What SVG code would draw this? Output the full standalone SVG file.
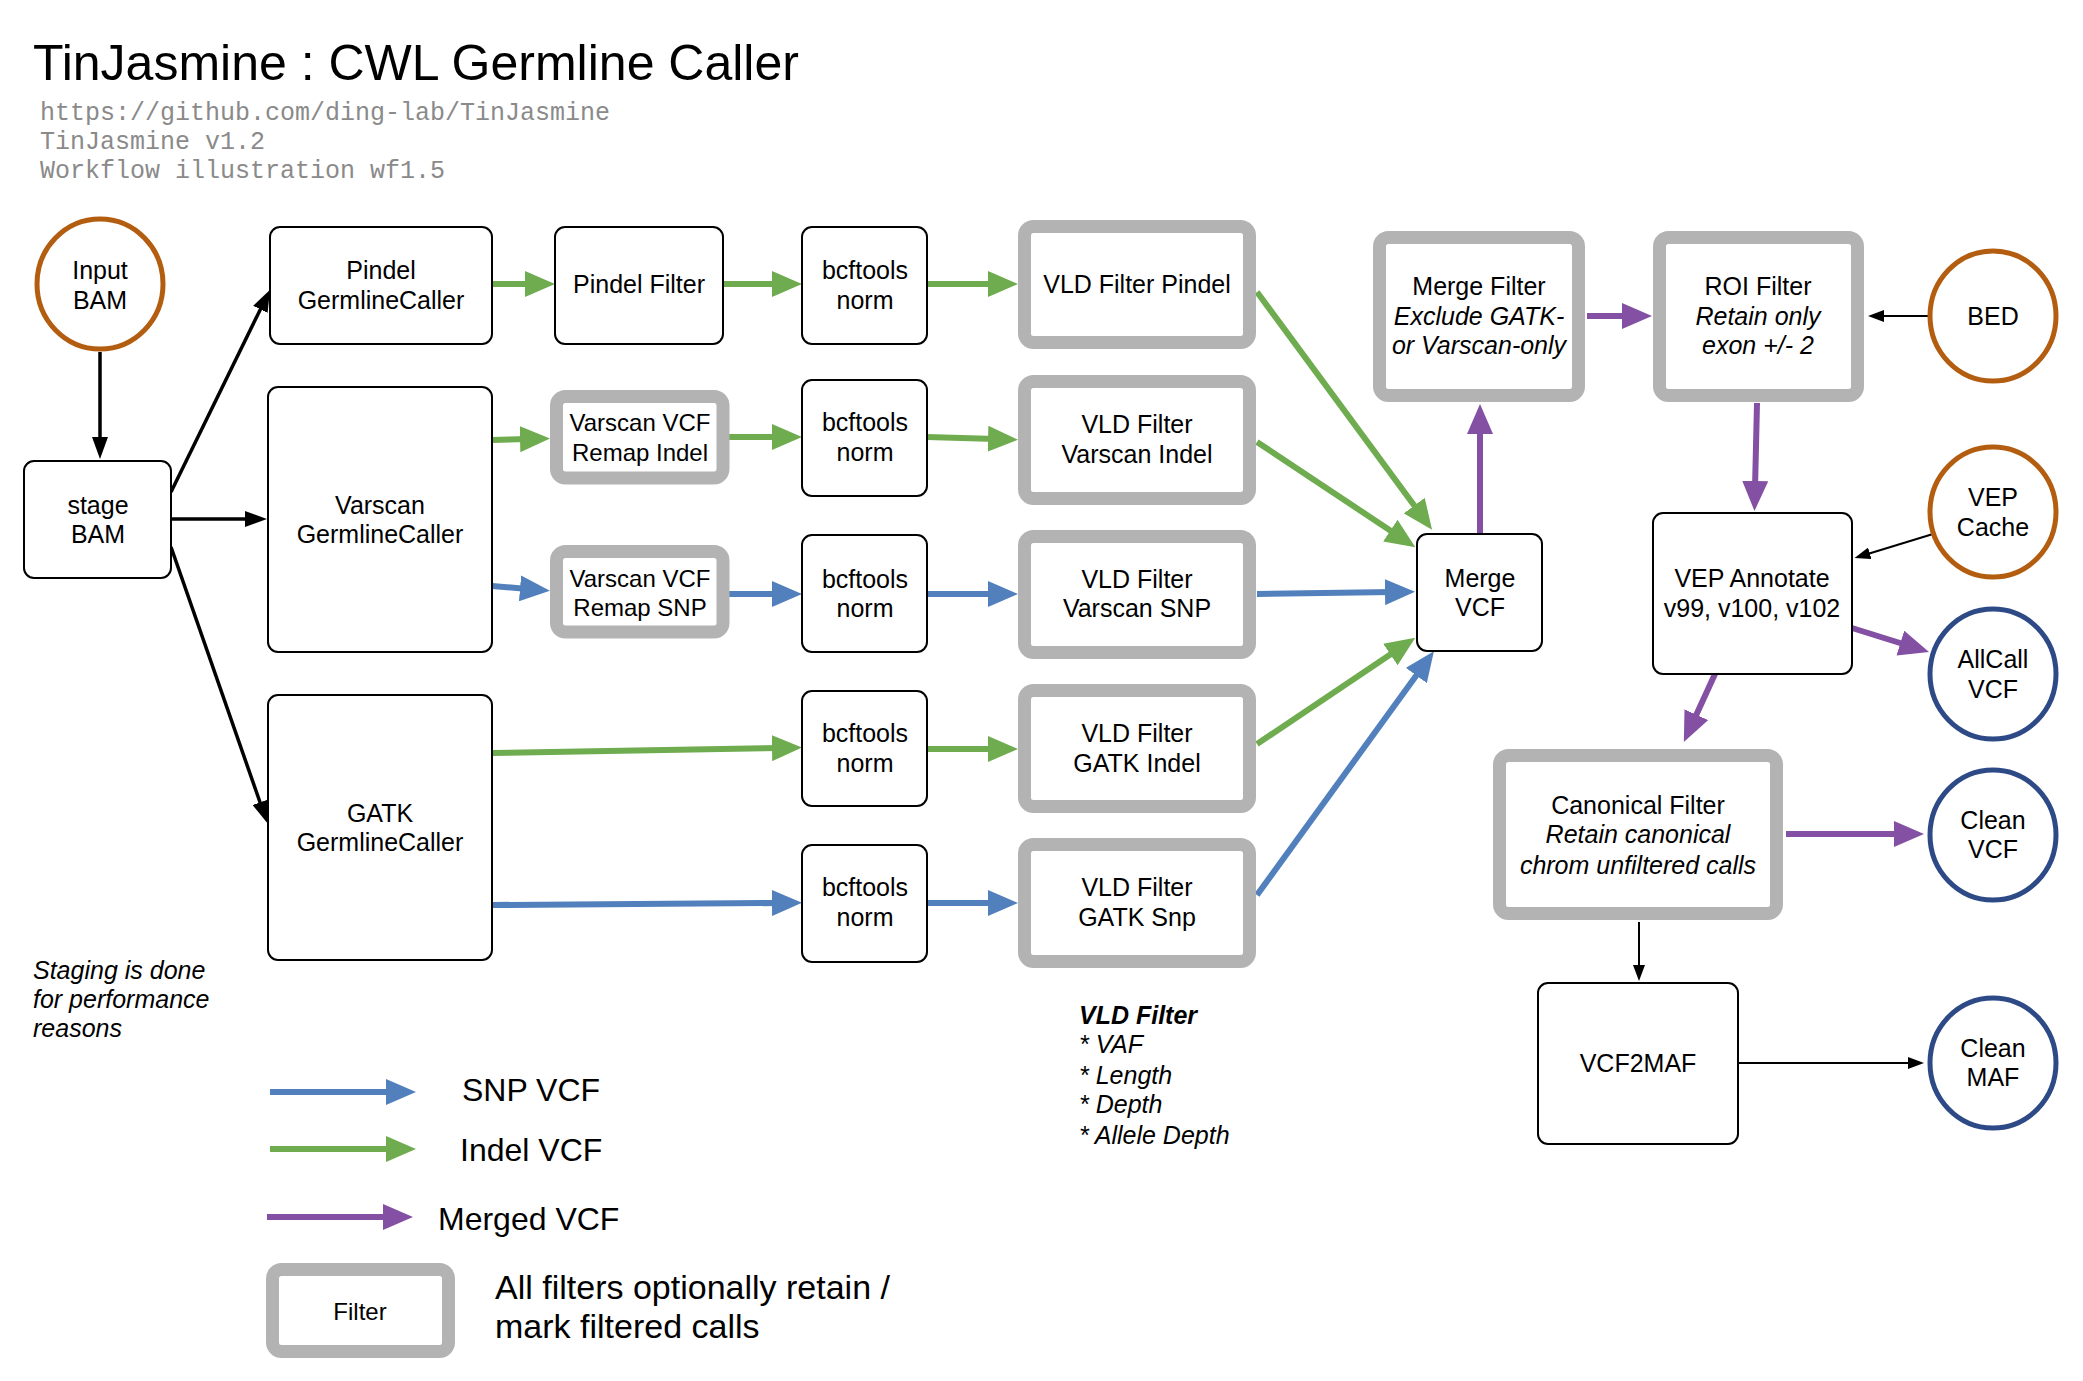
<svg xmlns="http://www.w3.org/2000/svg" width="2083" height="1381" viewBox="0 0 2083 1381">
<style>
text{font-family:"Liberation Sans",Arial,Helvetica,sans-serif;fill:#000}
.t{font-size:25px;text-anchor:middle}
.it{font-style:italic}
.box{fill:#fff;stroke:#000;stroke-width:2}
.filt{fill:#fff;stroke:#b3b3b3;stroke-width:13}
.inp{fill:#fff;stroke:#b35d10;stroke-width:5}
.outp{fill:#fff;stroke:#2d4a87;stroke-width:5}
.mono{font-family:"Liberation Mono","Courier New",monospace;font-size:25px;fill:#8a8a8a}
.g{stroke:#6fac4f;stroke-width:6;fill:none;marker-end:url(#mg)}
.b{stroke:#5180bd;stroke-width:6;fill:none;marker-end:url(#mb)}
.p{stroke:#8350a3;stroke-width:6;fill:none;marker-end:url(#mp)}
.k{stroke:#000;stroke-width:3.5;fill:none;marker-end:url(#mk)}
.k2{stroke:#000;stroke-width:2;fill:none;marker-end:url(#mk2)}
</style>
<defs>
<marker id="mg" markerUnits="userSpaceOnUse" viewBox="0 0 30 26" markerWidth="30" markerHeight="26" refX="8" refY="13" orient="auto"><path d="M0,0L30,13L0,26z" fill="#6fac4f"/></marker>
<marker id="mb" markerUnits="userSpaceOnUse" viewBox="0 0 30 26" markerWidth="30" markerHeight="26" refX="8" refY="13" orient="auto"><path d="M0,0L30,13L0,26z" fill="#5180bd"/></marker>
<marker id="mp" markerUnits="userSpaceOnUse" viewBox="0 0 30 26" markerWidth="30" markerHeight="26" refX="8" refY="13" orient="auto"><path d="M0,0L30,13L0,26z" fill="#8350a3"/></marker>
<marker id="mk" markerUnits="userSpaceOnUse" viewBox="0 0 22 16" markerWidth="22" markerHeight="16" refX="6" refY="8" orient="auto"><path d="M0,0L22,8L0,16z" fill="#000"/></marker>
<marker id="mk2" markerUnits="userSpaceOnUse" viewBox="0 0 16 12" markerWidth="16" markerHeight="12" refX="4" refY="6" orient="auto"><path d="M0,0L16,6L0,12z" fill="#000"/></marker>
</defs>
<rect width="2083" height="1381" fill="#fff"/>

<g id="header">
<text x="33" y="80" style="font-size:50px">TinJasmine : CWL Germline Caller</text>
<text class="mono" x="40" y="120">https://github.com/ding-lab/TinJasmine</text>
<text class="mono" x="40" y="149">TinJasmine v1.2</text>
<text class="mono" x="40" y="178">Workflow illustration wf1.5</text>
</g>

<g id="connectors">
<line class="k" x1="100" y1="352" x2="100" y2="443"/>
<line class="k" x1="171" y1="492" x2="263" y2="304"/>
<line class="k" x1="171" y1="519" x2="251" y2="519"/>
<line class="k" x1="171" y1="547" x2="262" y2="808"/>

<line class="g" x1="492" y1="284" x2="533" y2="284"/>
<line class="g" x1="723" y1="284" x2="780" y2="284"/>
<line class="g" x1="927" y1="284" x2="996" y2="284"/>
<line class="g" x1="492" y1="440" x2="528" y2="439"/>
<line class="g" x1="729" y1="437" x2="780" y2="437"/>
<line class="g" x1="927" y1="437" x2="996" y2="439"/>
<line class="b" x1="492" y1="586" x2="528" y2="589"/>
<line class="b" x1="729" y1="594" x2="780" y2="594"/>
<line class="b" x1="927" y1="594" x2="996" y2="594"/>
<line class="g" x1="492" y1="753" x2="780" y2="748"/>
<line class="g" x1="927" y1="749" x2="996" y2="749"/>
<line class="b" x1="492" y1="905" x2="780" y2="903"/>
<line class="b" x1="927" y1="903" x2="996" y2="903"/>

<line class="g" x1="1257" y1="292" x2="1419" y2="512"/>
<line class="g" x1="1257" y1="442" x2="1397" y2="535"/>
<line class="b" x1="1257" y1="594" x2="1393" y2="592"/>
<line class="g" x1="1257" y1="744" x2="1397" y2="650"/>
<line class="b" x1="1257" y1="895" x2="1421" y2="669"/>

<line class="p" x1="1480" y1="534" x2="1480" y2="426"/>
<line class="p" x1="1587" y1="316" x2="1630" y2="316"/>
<line class="p" x1="1757" y1="403" x2="1755" y2="489"/>
<line class="p" x1="1852" y1="628" x2="1908" y2="645.5"/>
<line class="p" x1="1715" y1="674" x2="1693" y2="722"/>
<line class="p" x1="1786" y1="834" x2="1902" y2="834"/>

<line class="k2" x1="1928" y1="316" x2="1880" y2="316"/>
<line class="k2" x1="1933" y1="534" x2="1866" y2="554.5"/>
<line class="k2" x1="1639" y1="922" x2="1639" y2="969"/>
<line class="k2" x1="1738" y1="1063" x2="1912" y2="1063"/>
</g>

<g id="input-bam"><ellipse class="inp" cx="100" cy="284" rx="63" ry="65"/><text class="t" x="100" y="279">Input</text><text class="t" x="100" y="309">BAM</text></g>
<g id="stage-bam"><rect class="box" x="24" y="461" width="147" height="117" rx="10"/><text class="t" x="98" y="514">stage</text><text class="t" x="98" y="543">BAM</text></g>

<g id="pindel-gc"><rect class="box" x="270" y="227" width="222" height="117" rx="10"/><text class="t" x="381" y="279">Pindel</text><text class="t" x="381" y="309">GermlineCaller</text></g>
<g id="pindel-filter"><rect class="box" x="555" y="227" width="168" height="117" rx="10"/><text class="t" x="639" y="293">Pindel Filter</text></g>
<g id="bcf1"><rect class="box" x="802" y="227" width="125" height="117" rx="10"/><text class="t" x="865" y="279">bcftools</text><text class="t" x="865" y="309">norm</text></g>
<g id="vld-pindel"><rect class="filt" x="1024.5" y="226.5" width="225" height="116" rx="9"/><text class="t" x="1137" y="293">VLD Filter Pindel</text></g>

<g id="varscan-gc"><rect class="box" x="268" y="387" width="224" height="265" rx="10"/><text class="t" x="380" y="514">Varscan</text><text class="t" x="380" y="543">GermlineCaller</text></g>
<g id="remap-indel"><rect class="filt" x="556.5" y="396.5" width="166.5" height="81.5" rx="9"/><text class="t" x="640" y="431" style="font-size:24px">Varscan VCF</text><text class="t" x="640" y="461" style="font-size:24px">Remap Indel</text></g>
<g id="bcf2"><rect class="box" x="802" y="380" width="125" height="116" rx="10"/><text class="t" x="865" y="431">bcftools</text><text class="t" x="865" y="461">norm</text></g>
<g id="vld-vi"><rect class="filt" x="1024.5" y="381.5" width="225" height="117" rx="9"/><text class="t" x="1137" y="433">VLD Filter</text><text class="t" x="1137" y="463">Varscan Indel</text></g>

<g id="remap-snp"><rect class="filt" x="556.5" y="551.5" width="166.5" height="80.5" rx="9"/><text class="t" x="640" y="587" style="font-size:24px">Varscan VCF</text><text class="t" x="640" y="616" style="font-size:24px">Remap SNP</text></g>
<g id="bcf3"><rect class="box" x="802" y="535" width="125" height="117" rx="10"/><text class="t" x="865" y="588">bcftools</text><text class="t" x="865" y="617">norm</text></g>
<g id="vld-vs"><rect class="filt" x="1024.5" y="536.5" width="225" height="116" rx="9"/><text class="t" x="1137" y="588">VLD Filter</text><text class="t" x="1137" y="617">Varscan SNP</text></g>

<g id="gatk-gc"><rect class="box" x="268" y="695" width="224" height="265" rx="10"/><text class="t" x="380" y="822">GATK</text><text class="t" x="380" y="851">GermlineCaller</text></g>
<g id="bcf4"><rect class="box" x="802" y="691" width="125" height="115" rx="10"/><text class="t" x="865" y="742">bcftools</text><text class="t" x="865" y="772">norm</text></g>
<g id="vld-gi"><rect class="filt" x="1024.5" y="690.5" width="225" height="116" rx="9"/><text class="t" x="1137" y="742">VLD Filter</text><text class="t" x="1137" y="772">GATK Indel</text></g>
<g id="bcf5"><rect class="box" x="802" y="845" width="125" height="117" rx="10"/><text class="t" x="865" y="896">bcftools</text><text class="t" x="865" y="926">norm</text></g>
<g id="vld-gs"><rect class="filt" x="1024.5" y="844.5" width="225" height="117" rx="9"/><text class="t" x="1137" y="896">VLD Filter</text><text class="t" x="1137" y="926">GATK Snp</text></g>

<g id="merge-vcf"><rect class="box" x="1417" y="534" width="125" height="117" rx="10"/><text class="t" x="1480" y="587">Merge</text><text class="t" x="1480" y="616">VCF</text></g>
<g id="merge-filter"><rect class="filt" x="1379.5" y="237.5" width="199" height="158" rx="9"/><text class="t" x="1479" y="295">Merge Filter</text><text class="t it" x="1479" y="325">Exclude GATK-</text><text class="t it" x="1479" y="354">or Varscan-only</text></g>
<g id="roi-filter"><rect class="filt" x="1659.5" y="237.5" width="198" height="158" rx="9"/><text class="t" x="1758" y="295">ROI Filter</text><text class="t it" x="1758" y="325">Retain only</text><text class="t it" x="1758" y="354">exon +/- 2</text></g>
<g id="bed"><ellipse class="inp" cx="1993" cy="316" rx="63" ry="65"/><text class="t" x="1993" y="325">BED</text></g>
<g id="vep-cache"><ellipse class="inp" cx="1993" cy="512" rx="63" ry="65"/><text class="t" x="1993" y="506">VEP</text><text class="t" x="1993" y="536">Cache</text></g>
<g id="vep-annotate"><rect class="box" x="1653" y="513" width="199" height="161" rx="10"/><text class="t" x="1752" y="587">VEP Annotate</text><text class="t" x="1752" y="617">v99, v100, v102</text></g>
<g id="allcall-vcf"><ellipse class="outp" cx="1993" cy="674" rx="63" ry="65"/><text class="t" x="1993" y="668">AllCall</text><text class="t" x="1993" y="698">VCF</text></g>
<g id="canonical-filter"><rect class="filt" x="1499.5" y="755.5" width="277" height="158" rx="9"/><text class="t" x="1638" y="814">Canonical Filter</text><text class="t it" x="1638" y="843">Retain canonical</text><text class="t it" x="1638" y="874">chrom unfiltered calls</text></g>
<g id="clean-vcf"><ellipse class="outp" cx="1993" cy="835" rx="63" ry="65"/><text class="t" x="1993" y="829">Clean</text><text class="t" x="1993" y="858">VCF</text></g>
<g id="vcf2maf"><rect class="box" x="1538" y="983" width="200" height="161" rx="10"/><text class="t" x="1638" y="1072">VCF2MAF</text></g>
<g id="clean-maf"><ellipse class="outp" cx="1993" cy="1063" rx="63" ry="65"/><text class="t" x="1993" y="1057">Clean</text><text class="t" x="1993" y="1086">MAF</text></g>

<g id="notes">
<text class="it" x="33" y="979" style="font-size:25px">Staging is done</text>
<text class="it" x="33" y="1008" style="font-size:25px">for performance</text>
<text class="it" x="33" y="1037" style="font-size:25px">reasons</text>
<text x="1079" y="1024" style="font-size:25px;font-weight:bold;font-style:italic">VLD Filter</text>
<text class="it" x="1079" y="1053" style="font-size:25px">* VAF</text>
<text class="it" x="1079" y="1084" style="font-size:25px">* Length</text>
<text class="it" x="1079" y="1113" style="font-size:25px">* Depth</text>
<text class="it" x="1079" y="1144" style="font-size:25px">* Allele Depth</text>
</g>

<g id="legend">
<line class="b" x1="270" y1="1092" x2="394" y2="1092"/>
<text x="462" y="1101" style="font-size:32px">SNP VCF</text>
<line class="g" x1="270" y1="1149" x2="394" y2="1149"/>
<text x="460" y="1161" style="font-size:32px">Indel VCF</text>
<line class="p" x1="267" y1="1217" x2="391" y2="1217"/>
<text x="438" y="1230" style="font-size:32px">Merged VCF</text>
<rect class="filt" x="272.5" y="1269.5" width="176" height="82" rx="9"/>
<text class="t" x="360" y="1320" style="font-size:24px">Filter</text>
<text x="495" y="1299" style="font-size:34px">All filters optionally retain /</text>
<text x="495" y="1338" style="font-size:34px">mark filtered calls</text>
</g>
</svg>
